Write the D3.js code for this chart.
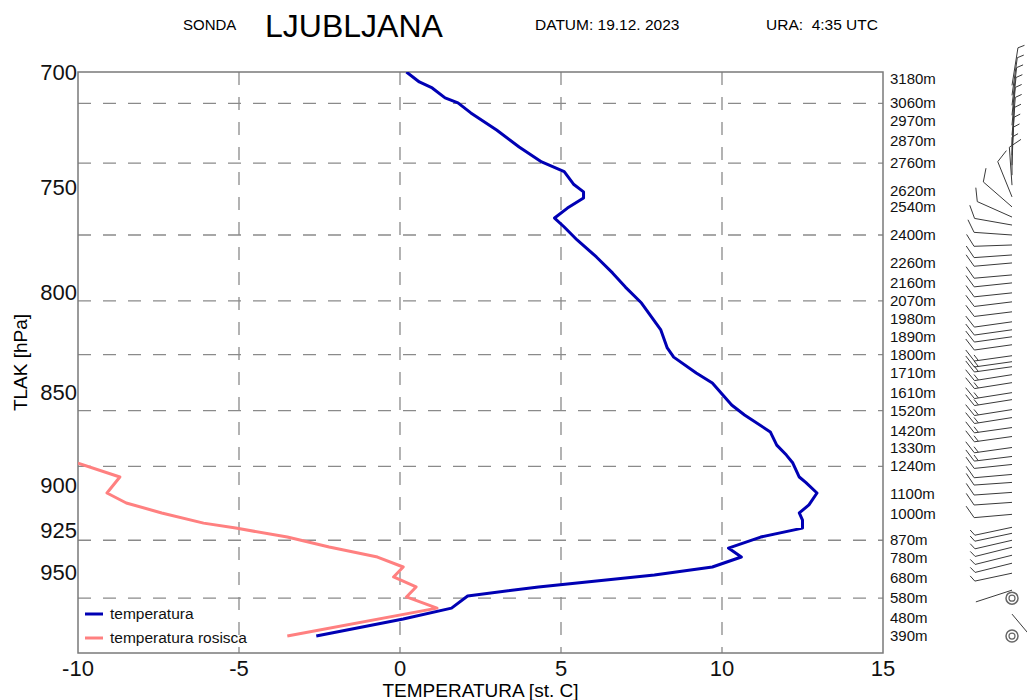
<!DOCTYPE html>
<html><head><meta charset="utf-8">
<script src="https://cdn.jsdelivr.net/npm/d3@7"></script>
<style>body{margin:0;background:#fff}svg{display:block;font-family:"Liberation Sans",Arial,sans-serif}</style>
</head><body><svg id="c" width="1027" height="700"></svg>
<script>
// ---------- data ----------
const xTicks = [-10, -5, 0, 5, 10, 15];
const xGrid = [-5, 0, 5, 10];
const pressureLabels = [700, 750, 800, 850, 900, 925, 950];
const pressureHeights = [3217, 2640, 2114, 1613, 1147, 921, 711];
const heightLabels = [3180, 3060, 2970, 2870, 2760, 2620, 2540, 2400, 2260, 2160, 2070, 1980, 1890, 1800, 1710, 1610, 1520, 1420, 1330, 1240, 1100, 1000, 870, 780, 680, 580, 480, 390];
const gridHeights = [3060, 2760, 2400, 2070, 1800, 1520, 1240, 870, 580];

const tempHeights = [3217, 3167, 3137, 3087, 3062, 3012, 2926, 2841, 2766, 2718, 2653, 2616, 2586, 2535, 2485, 2440, 2375, 2290, 2210, 2139, 2059, 1924, 1834, 1788, 1708, 1658, 1548, 1498, 1413, 1347, 1297, 1257, 1187, 1160, 1107, 1047, 1007, 971, 931, 886, 831, 786, 736, 696, 636, 591, 530, 475, 390];
const tempValues  = [0.2, 0.6, 1.0, 1.4, 1.8, 2.2, 3.0, 3.7, 4.4, 5.1, 5.4, 5.7, 5.7, 5.2, 4.8, 5.1, 5.5, 6.1, 6.6, 7.0, 7.5, 8.1, 8.3, 8.5, 9.2, 9.7, 10.3, 10.7, 11.5, 11.7, 12.0, 12.2, 12.4, 12.6, 12.95, 12.7, 12.4, 12.5, 12.5, 11.2, 10.2, 10.6, 9.7, 7.9, 4.3, 2.1, 1.6, 0.1, -2.6];

const dewHeights = [1257, 1187, 1107, 1057, 1007, 956, 931, 886, 836, 786, 736, 686, 636, 586, 530, 390];
const dewValues  = [-10.0, -8.7, -9.1, -8.5, -7.4, -6.1, -5.1, -3.5, -2.2, -0.7, 0.1, -0.2, 0.5, 0.2, 1.15, -3.5];

const windHeights = [3150, 3100, 3050, 3000, 2950, 2900, 2850, 2800, 2750, 2700, 2650, 2591, 2541, 2490, 2450, 2400, 2350, 2300, 2260, 2200, 2160, 2110, 2065, 2015, 1965, 1925, 1890, 1850, 1795, 1765, 1740, 1700, 1660, 1610, 1575, 1525, 1485, 1435, 1390, 1335, 1290, 1250, 1200, 1160, 1110, 1060, 1000, 935, 905, 870, 835, 795, 755, 705, 620, 500];
const windDirs = [9, 8, 7, 6, 5, 5, 4, 3, 2, 0, 356, 338, 311, 294, 280, 274, 268, 266, 265, 265, 264, 264, 263, 263, 262, 262, 262, 262, 262, 262, 262, 261, 261, 261, 261, 261, 261, 262, 262, 262, 263, 264, 265, 266, 266, 266, 265, 258, 258, 257, 256, 256, 256, 258, 252, 140];
const windSpeeds = [5, 5, 5, 5, 5, 5, 5, 5, 5, 5, 10, 10, 10, 10, 10, 10, 10, 10, 10, 10, 10, 10, 10, 10, 10, 10, 10, 10, 15, 15, 15, 15, 15, 15, 15, 15, 15, 15, 15, 15, 15, 10, 10, 10, 10, 10, 10, 5, 5, 5, 5, 5, 5, 5, 2, 2];
const calmHeights = [580, 390];

const seriesNames = ["temperatura", "temperatura rosisca"];
const seriesColors = ["#0000b4", "#ff8080"];

// ---------- scales ----------
const svg = d3.select("#c");
const x = d3.scaleLinear().domain([-10, 15]).range([78, 883]);
const y = d3.scaleLinear().domain([305, 3217]).range([653, 72]);

svg.append("defs").append("clipPath").attr("id", "plot").append("rect")
  .attr("x", x(-10)).attr("y", y(3217))
  .attr("width", x(15) - x(-10)).attr("height", y(305) - y(3217));

// ---------- grid ----------
const grid = svg.append("g").attr("stroke", "#8a8a8a").attr("stroke-width", 1.3).attr("stroke-dasharray", "13,12");
grid.selectAll("line.h").data(gridHeights).join("line").attr("class", "h")
  .attr("x1", x(-10)).attr("x2", x(15)).attr("y1", d => y(d)).attr("y2", d => y(d));
grid.selectAll("line.v").data(xGrid).join("line").attr("class", "v")
  .attr("x1", d => x(d)).attr("x2", d => x(d)).attr("y1", y(3217)).attr("y2", y(305));

// ---------- frame ----------
svg.append("rect").attr("x", x(-10)).attr("y", y(3217))
  .attr("width", x(15) - x(-10)).attr("height", y(305) - y(3217))
  .attr("fill", "none").attr("stroke", "#7a7a7a").attr("stroke-width", 1.5);

// ---------- axes labels ----------
svg.append("g").selectAll("text").data(pressureLabels).join("text")
  .attr("x", x(-10) - 1).attr("y", (d, i) => y(pressureHeights[i]) + 8)
  .attr("text-anchor", "end").attr("font-size", 22).attr("fill", "#111").text(d => d);

svg.append("g").selectAll("text").data(xTicks).join("text")
  .attr("x", d => x(d)).attr("y", y(305) + 23)
  .attr("text-anchor", "middle").attr("font-size", 22).attr("fill", "#111").text(d => d);

svg.append("g").selectAll("text").data(heightLabels).join("text")
  .attr("x", x(15) + 7).attr("y", d => y(d) + 5)
  .attr("font-size", 15).attr("fill", "#111").text(d => d + "m");

svg.append("text").attr("x", (x(-10) + x(15)) / 2).attr("y", 697)
  .attr("text-anchor", "middle").attr("font-size", 19).text("TEMPERATURA [st. C]");
svg.append("text").attr("transform", `translate(27,${(y(3217) + y(305)) / 2}) rotate(-90)`)
  .attr("text-anchor", "middle").attr("font-size", 19).text("TLAK [hPa]");

// ---------- title ----------
svg.append("text").attr("x", 183).attr("y", 30).attr("font-size", 15).text("SONDA");
svg.append("text").attr("x", 265).attr("y", 37).attr("font-size", 32).text("LJUBLJANA");
svg.append("text").attr("x", 535).attr("y", 30).attr("font-size", 15.5).text("DATUM: 19.12. 2023");
svg.append("text").attr("x", 766).attr("y", 30).attr("font-size", 15.5).attr("xml:space", "preserve").text("URA:  4:35 UTC");

// ---------- curves ----------
const line = d3.line().x(d => x(d[1])).y(d => y(d[0]));
const curves = svg.append("g").attr("clip-path", "url(#plot)");
curves.append("path").datum(d3.zip(dewHeights, dewValues))
  .attr("d", line).attr("fill", "none").attr("stroke", seriesColors[1]).attr("stroke-width", 3).attr("stroke-linejoin", "round");
curves.append("path").datum(d3.zip(tempHeights, tempValues))
  .attr("d", line).attr("fill", "none").attr("stroke", seriesColors[0]).attr("stroke-width", 3).attr("stroke-linejoin", "round");

// ---------- legend ----------
const lg = svg.append("g");
seriesNames.forEach((n, i) => {
  const ly = 614 + i * 24;
  lg.append("line").attr("x1", 85).attr("x2", 103).attr("y1", ly).attr("y2", ly)
    .attr("stroke", seriesColors[i]).attr("stroke-width", 3);
  lg.append("text").attr("x", 110).attr("y", ly + 5).attr("font-size", 15.5).attr("fill", "#111").text(n);
});

// ---------- wind barbs ----------
const wb = svg.append("g").attr("stroke", "#3a3a3a").attr("stroke-width", 1).attr("fill", "none");
const bx = 1012, L = 38, fa = 60 * Math.PI / 180;
windHeights.forEach((h, i) => {
  const r = windDirs[i] * Math.PI / 180;
  const ux = Math.sin(r), uy = -Math.cos(r);
  const by = y(h), tx = bx + ux * L, ty = by + uy * L;
  wb.append("line").attr("x1", bx).attr("y1", by).attr("x2", tx).attr("y2", ty);
  const fx = ux * Math.cos(fa) - uy * Math.sin(fa), fy = ux * Math.sin(fa) + uy * Math.cos(fa);
  let rem = windSpeeds[i], pos = 0;
  while (rem >= 10) {
    const px = tx - ux * pos, py = ty - uy * pos;
    wb.append("line").attr("x1", px).attr("y1", py).attr("x2", px + fx * 14).attr("y2", py + fy * 14);
    rem -= 10; pos += 4;
  }
  if (rem >= 5) {
    const px = tx - ux * pos, py = ty - uy * pos;
    wb.append("line").attr("x1", px).attr("y1", py).attr("x2", px + fx * 7).attr("y2", py + fy * 7);
  }
});
calmHeights.forEach(h => {
  wb.append("circle").attr("cx", bx).attr("cy", y(h)).attr("r", 6).attr("stroke", "#666").attr("stroke-width", 1.5);
  wb.append("circle").attr("cx", bx).attr("cy", y(h)).attr("r", 3).attr("stroke", "#666").attr("stroke-width", 1.2);
});
</script>
</body></html>
